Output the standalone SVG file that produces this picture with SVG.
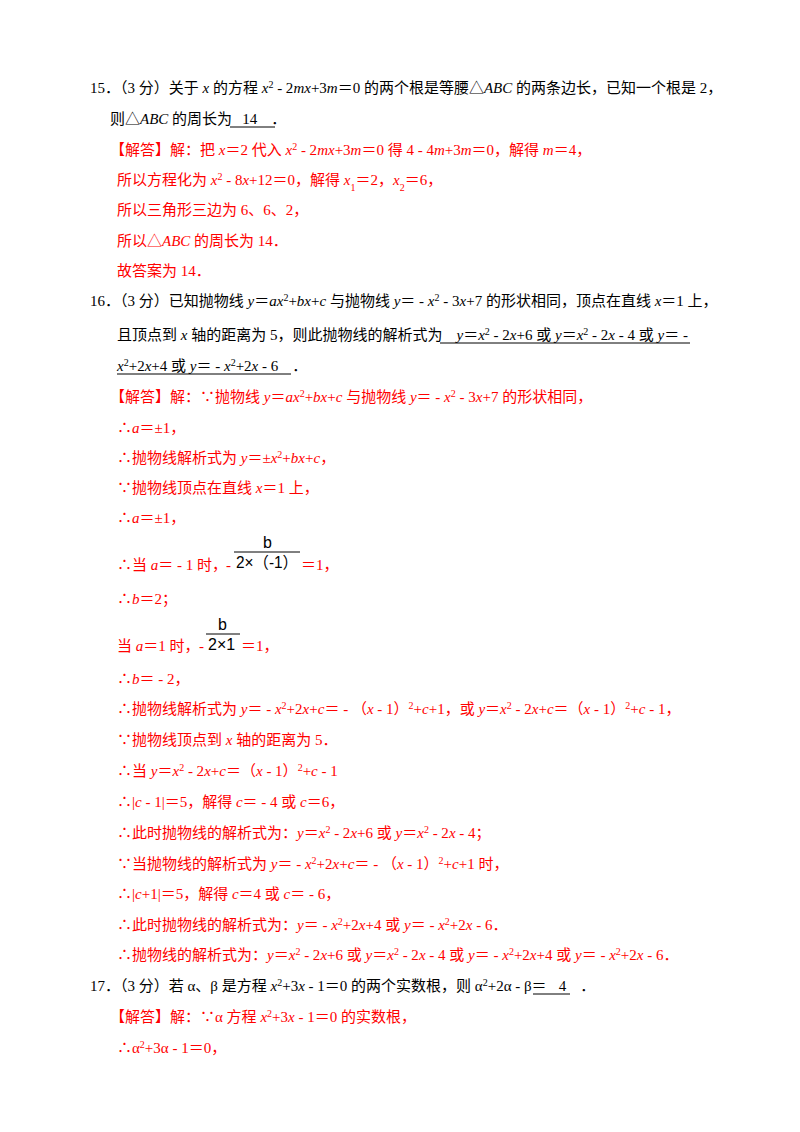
<svg xmlns="http://www.w3.org/2000/svg" width="800" height="1132" viewBox="0 0 800 1132">
<style>
text{font-family:"Liberation Serif","Noto Sans CJK SC",serif;font-size:15px;fill:#000}
.r{fill:#ff0000}
.i{font-style:italic}
.s{font-size:10px;baseline-shift:super}
.b{font-size:10px;baseline-shift:sub}
.f{font-family:"Liberation Sans","Noto Sans CJK SC",sans-serif;fill:#000;font-size:16px}
line{stroke:#000;stroke-width:1}
</style>
<rect width="800" height="1132" fill="#fff"/>
<text x="90" y="93">15．（3 分）关于 <tspan class="i">x</tspan> 的方程 <tspan class="i">x</tspan><tspan class="s">2</tspan> - 2<tspan class="i">mx</tspan>+3<tspan class="i">m</tspan>＝0 的两个根是等腰△<tspan class="i">ABC</tspan> 的两条边长，已知一个根是 2，</text>
<text x="110" y="124">则△<tspan class="i">ABC</tspan> 的周长为<tspan dx="10">14</tspan><tspan dx="14">．</tspan></text>
<line x1="230" y1="127" x2="275" y2="127"/>
<text class="r" x="110" y="155">【解答】解：把 <tspan class="i">x</tspan>＝2 代入 <tspan class="i">x</tspan><tspan class="s">2</tspan> - 2<tspan class="i">mx</tspan>+3<tspan class="i">m</tspan>＝0 得 4 - 4<tspan class="i">m</tspan>+3<tspan class="i">m</tspan>＝0，解得 <tspan class="i">m</tspan>＝4，</text>
<text class="r" x="117" y="185">所以方程化为 <tspan class="i">x</tspan><tspan class="s">2</tspan> - 8<tspan class="i">x</tspan>+12＝0，解得 <tspan class="i">x</tspan><tspan class="b">1</tspan>＝2，<tspan class="i">x</tspan><tspan class="b">2</tspan>＝6，</text>
<text class="r" x="117" y="215">所以三角形三边为 6、6、2，</text>
<text class="r" x="117" y="246">所以△<tspan class="i">ABC</tspan> 的周长为 14．</text>
<text class="r" x="117" y="276">故答案为 14．</text>

<text x="90" y="306">16．（3 分）已知抛物线 <tspan class="i">y</tspan>＝<tspan class="i">ax</tspan><tspan class="s">2</tspan>+<tspan class="i">bx</tspan>+<tspan class="i">c</tspan> 与抛物线 <tspan class="i">y</tspan>＝ - <tspan class="i">x</tspan><tspan class="s">2</tspan> - 3<tspan class="i">x</tspan>+7 的形状相同，顶点在直线 <tspan class="i">x</tspan>＝1 上，</text>
<text x="117" y="340">且顶点到 <tspan class="i">x</tspan> 轴的距离为 5，则此抛物线的解析式为<tspan dx="14" class="i">y</tspan>＝<tspan class="i">x</tspan><tspan class="s">2</tspan> - 2<tspan class="i">x</tspan>+6 或 <tspan class="i">y</tspan>＝<tspan class="i">x</tspan><tspan class="s">2</tspan> - 2<tspan class="i">x</tspan> - 4 或 <tspan class="i">y</tspan>＝ -</text>
<line x1="440" y1="343" x2="690" y2="343"/>
<text x="117" y="371"><tspan class="i">x</tspan><tspan class="s">2</tspan>+2<tspan class="i">x</tspan>+4 或 <tspan class="i">y</tspan>＝ - <tspan class="i">x</tspan><tspan class="s">2</tspan>+2<tspan class="i">x</tspan> - 6<tspan dx="14">．</tspan></text>
<line x1="117" y1="374" x2="291" y2="374"/>
<text class="r" x="110" y="402">【解答】解：∵抛物线 <tspan class="i">y</tspan>＝<tspan class="i">ax</tspan><tspan class="s">2</tspan>+<tspan class="i">bx</tspan>+<tspan class="i">c</tspan> 与抛物线 <tspan class="i">y</tspan>＝ - <tspan class="i">x</tspan><tspan class="s">2</tspan> - 3<tspan class="i">x</tspan>+7 的形状相同，</text>
<text class="r" x="117" y="433">∴<tspan class="i">a</tspan>＝±1，</text>
<text class="r" x="117" y="463">∴抛物线解析式为 <tspan class="i">y</tspan>＝±<tspan class="i">x</tspan><tspan class="s">2</tspan>+<tspan class="i">bx</tspan>+<tspan class="i">c</tspan>，</text>
<text class="r" x="117" y="493">∵抛物线顶点在直线 <tspan class="i">x</tspan>＝1 上，</text>
<text class="r" x="117" y="523">∴<tspan class="i">a</tspan>＝±1，</text>
<text class="r" x="117" y="570">∴当 <tspan class="i">a</tspan>＝ - 1 时，</text>
<text class="r" x="226" y="570">-</text>
<text class="f" x="263" y="548">b</text>
<line x1="234" y1="552" x2="300" y2="552"/>
<text class="f" x="236" y="568" textLength="62" lengthAdjust="spacingAndGlyphs">2×（-1）</text>
<text class="r" x="301" y="570">＝1，</text>
<text class="r" x="117" y="604">∴<tspan class="i">b</tspan>＝2；</text>
<text class="r" x="117" y="651">当 <tspan class="i">a</tspan>＝1 时，</text>
<text class="r" x="199" y="651">-</text>
<text class="f" x="218" y="630">b</text>
<line x1="206" y1="634" x2="240" y2="634"/>
<text class="f" x="208" y="650">2×1</text>
<text class="r" x="241" y="651">＝1，</text>
<text class="r" x="117" y="684">∴<tspan class="i">b</tspan>＝ - 2，</text>
<text class="r" x="117" y="714">∴抛物线解析式为 <tspan class="i">y</tspan>＝ - <tspan class="i">x</tspan><tspan class="s">2</tspan>+2<tspan class="i">x</tspan>+<tspan class="i">c</tspan>＝ - （<tspan class="i">x</tspan> - 1）<tspan class="s">2</tspan>+<tspan class="i">c</tspan>+1，或 <tspan class="i">y</tspan>＝<tspan class="i">x</tspan><tspan class="s">2</tspan> - 2<tspan class="i">x</tspan>+<tspan class="i">c</tspan>＝（<tspan class="i">x</tspan> - 1）<tspan class="s">2</tspan>+<tspan class="i">c</tspan> - 1，</text>
<text class="r" x="117" y="745">∵抛物线顶点到 <tspan class="i">x</tspan> 轴的距离为 5．</text>
<text class="r" x="117" y="776">∴当 <tspan class="i">y</tspan>＝<tspan class="i">x</tspan><tspan class="s">2</tspan> - 2<tspan class="i">x</tspan>+<tspan class="i">c</tspan>＝（<tspan class="i">x</tspan> - 1）<tspan class="s">2</tspan>+<tspan class="i">c</tspan> - 1</text>
<text class="r" x="117" y="807">∴|<tspan class="i">c</tspan> - 1|＝5，解得 <tspan class="i">c</tspan>＝ - 4 或 <tspan class="i">c</tspan>＝6，</text>
<text class="r" x="117" y="838">∴此时抛物线的解析式为：<tspan class="i">y</tspan>＝<tspan class="i">x</tspan><tspan class="s">2</tspan> - 2<tspan class="i">x</tspan>+6 或 <tspan class="i">y</tspan>＝<tspan class="i">x</tspan><tspan class="s">2</tspan> - 2<tspan class="i">x</tspan> - 4；</text>
<text class="r" x="117" y="869">∵当抛物线的解析式为 <tspan class="i">y</tspan>＝ - <tspan class="i">x</tspan><tspan class="s">2</tspan>+2<tspan class="i">x</tspan>+<tspan class="i">c</tspan>＝ - （<tspan class="i">x</tspan> - 1）<tspan class="s">2</tspan>+<tspan class="i">c</tspan>+1 时，</text>
<text class="r" x="117" y="899">∴|<tspan class="i">c</tspan>+1|＝5，解得 <tspan class="i">c</tspan>＝4 或 <tspan class="i">c</tspan>＝ - 6，</text>
<text class="r" x="117" y="930">∴此时抛物线的解析式为：<tspan class="i">y</tspan>＝ - <tspan class="i">x</tspan><tspan class="s">2</tspan>+2<tspan class="i">x</tspan>+4 或 <tspan class="i">y</tspan>＝ - <tspan class="i">x</tspan><tspan class="s">2</tspan>+2<tspan class="i">x</tspan> - 6．</text>
<text class="r" x="117" y="960">∴抛物线的解析式为：<tspan class="i">y</tspan>＝<tspan class="i">x</tspan><tspan class="s">2</tspan> - 2<tspan class="i">x</tspan>+6 或 <tspan class="i">y</tspan>＝<tspan class="i">x</tspan><tspan class="s">2</tspan> - 2<tspan class="i">x</tspan> - 4 或 <tspan class="i">y</tspan>＝ - <tspan class="i">x</tspan><tspan class="s">2</tspan>+2<tspan class="i">x</tspan>+4 或 <tspan class="i">y</tspan>＝ - <tspan class="i">x</tspan><tspan class="s">2</tspan>+2<tspan class="i">x</tspan> - 6．</text>

<text x="90" y="991">17．（3 分）若 α、β 是方程 <tspan class="i">x</tspan><tspan class="s">2</tspan>+3<tspan class="i">x</tspan> - 1＝0 的两个实数根，则 α<tspan class="s">2</tspan>+2α - β＝<tspan dx="12">4</tspan><tspan dx="14">．</tspan></text>
<line x1="533" y1="994" x2="570" y2="994"/>
<text class="r" x="110" y="1022">【解答】解：∵α 方程 <tspan class="i">x</tspan><tspan class="s">2</tspan>+3<tspan class="i">x</tspan> - 1＝0 的实数根，</text>
<text class="r" x="117" y="1053">∴α<tspan class="s">2</tspan>+3α - 1＝0，</text>
</svg>
